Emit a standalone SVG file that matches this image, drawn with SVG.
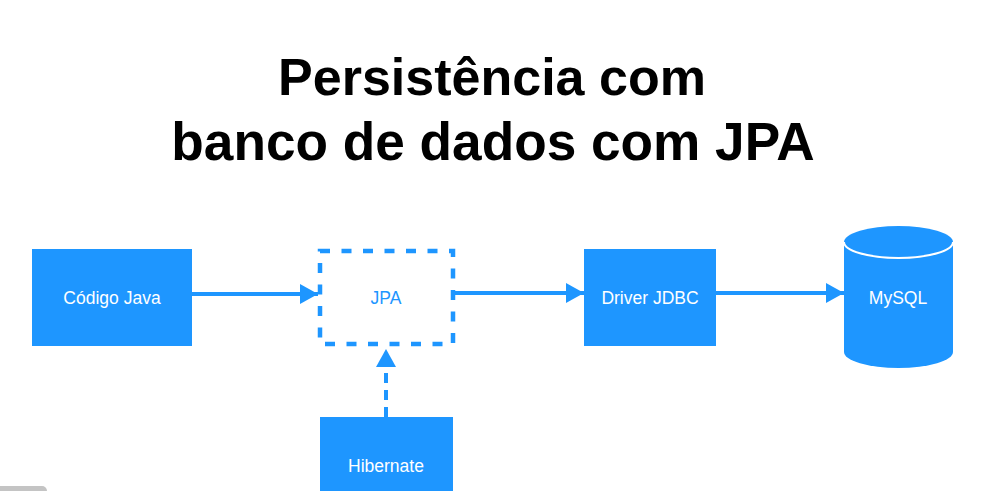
<svg xmlns="http://www.w3.org/2000/svg" width="987" height="491" viewBox="0 0 987 491">
<style>
.title{font-family:"Liberation Sans",Arial,sans-serif;font-weight:bold;font-size:52px;fill:#000;text-anchor:middle}
.box{fill:#1E96FF}
.lbl{font-family:"Liberation Sans",Arial,sans-serif;font-size:17.5px;fill:#fff;text-anchor:middle;dominant-baseline:central}
.conn{stroke:#1E96FF;stroke-width:4;fill:none}
</style>
<defs>
<marker id="ah" markerUnits="userSpaceOnUse" markerWidth="20" markerHeight="20" viewBox="0 0 20 20" refX="18" refY="10" orient="auto">
<path d="M0,0 L18,10 L0,20 Z" fill="#1E96FF"/>
</marker>
</defs>
<rect width="987" height="491" fill="#fff"/>
<text class="title" x="492" y="95">Persistência com</text>
<text class="title" x="493" y="160" style="font-size:53.2px">banco de dados com JPA</text>
<g id="codigo-java">
<rect class="box" x="32" y="249" width="160" height="97"/>
<text class="lbl" x="112" y="298">Código Java</text>
</g>
<g id="jpa">
<rect x="320" y="251" width="133" height="93" fill="none" stroke="#1E96FF" stroke-width="4.5" stroke-dasharray="10 11.5"/>
<text class="lbl" x="386" y="298" style="fill:#1E96FF">JPA</text>
</g>
<g id="driver-jdbc">
<rect class="box" x="584" y="249" width="132" height="97"/>
<text class="lbl" x="650" y="298">Driver JDBC</text>
</g>
<g id="mysql">
<path class="box" d="M844,242 A54.5,16 0 0 1 953,242 L953,352 A54.5,16 0 0 1 844,352 Z"/>
<path d="M844,242 A54.5,16 0 0 0 953,242" fill="none" stroke="#fff" stroke-width="2"/>
<text class="lbl" x="898" y="298">MySQL</text>
</g>
<g id="hibernate">
<rect class="box" x="320" y="417" width="133" height="80"/>
<text class="lbl" x="386" y="466">Hibernate</text>
</g>
<g id="connectors">
<line class="conn" x1="192" y1="294" x2="318" y2="294" marker-end="url(#ah)"/>
<line class="conn" x1="453" y1="293" x2="584" y2="293" marker-end="url(#ah)"/>
<line class="conn" x1="716" y1="293" x2="844" y2="293" marker-end="url(#ah)"/>
<line class="conn" x1="386" y1="417" x2="386" y2="349" stroke-dasharray="10 7" marker-end="url(#ah)"/>
</g>
<rect x="-6" y="486" width="53" height="12" rx="5" fill="#c4c4c4"/>
</svg>
